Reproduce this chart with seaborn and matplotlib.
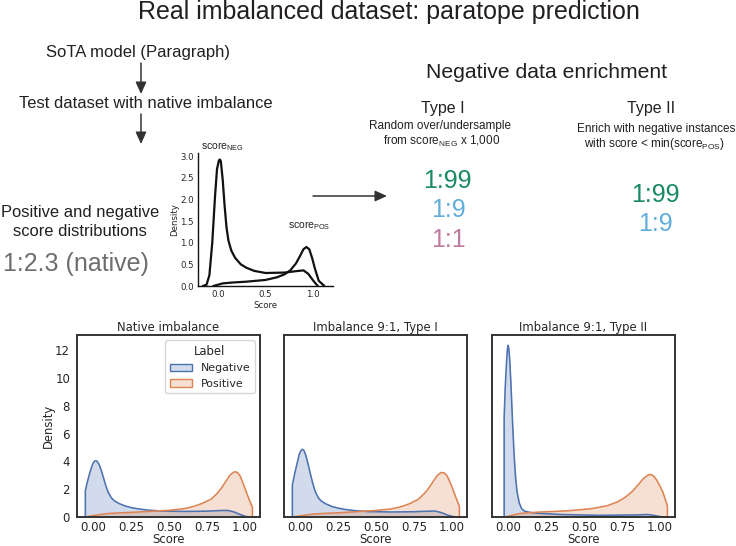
import matplotlib
matplotlib.use('Agg')
import matplotlib.pyplot as plt
from matplotlib.patches import Patch, FancyArrowPatch
import seaborn as sns
import pandas as pd

# values
neg1_x = [-0.05, -0.05, -0.035, -0.02, -0.005, 0.005, 0.015, 0.025, 0.04, 0.055, 0.07, 0.085, 0.10, 0.12, 0.14, 0.17, 0.21, 0.25, 0.30, 0.36, 0.45, 0.60, 0.75, 0.85, 0.89, 0.93, 0.97, 1.0, 1.03]
neg1_y = [0, 1.9, 2.6, 3.2, 3.72, 3.95, 4.05, 4.03, 3.8, 3.35, 2.8, 2.25, 1.8, 1.4, 1.17, 0.98, 0.8, 0.68, 0.58, 0.5, 0.43, 0.4, 0.42, 0.47, 0.47, 0.36, 0.18, 0.06, 0]
pos1_x = [-0.05, 0.0, 0.05, 0.10, 0.18, 0.25, 0.40, 0.50, 0.60, 0.66, 0.72, 0.78, 0.82, 0.85, 0.88, 0.905, 0.93, 0.95, 0.97, 1.0, 1.02, 1.05, 1.05]
pos1_y = [0, 0.1, 0.18, 0.25, 0.3, 0.33, 0.42, 0.48, 0.6, 0.75, 0.98, 1.3, 1.72, 2.15, 2.65, 3.05, 3.25, 3.22, 2.95, 2.1, 1.5, 0.7, 0]

neg2_x = [-0.05, -0.05, -0.035, -0.02, -0.005, 0.005, 0.015, 0.025, 0.04, 0.055, 0.07, 0.085, 0.10, 0.12, 0.14, 0.17, 0.21, 0.25, 0.30, 0.36, 0.45, 0.60, 0.75, 0.85, 0.89, 0.93, 0.97, 1.0, 1.03]
neg2_y = [0, 2.3, 3.1, 3.8, 4.5, 4.75, 4.87, 4.82, 4.4, 3.75, 3.05, 2.4, 1.85, 1.4, 1.15, 0.95, 0.76, 0.64, 0.54, 0.46, 0.39, 0.36, 0.38, 0.42, 0.43, 0.32, 0.15, 0.05, 0]
pos2_x = [-0.05, 0.0, 0.05, 0.10, 0.18, 0.25, 0.40, 0.50, 0.60, 0.66, 0.72, 0.78, 0.82, 0.85, 0.88, 0.905, 0.93, 0.95, 0.97, 1.0, 1.02, 1.05, 1.05]
pos2_y = [0, 0.08, 0.16, 0.22, 0.27, 0.3, 0.4, 0.47, 0.58, 0.72, 0.95, 1.28, 1.7, 2.1, 2.6, 3.0, 3.2, 3.18, 2.95, 2.2, 1.6, 0.75, 0]

neg3_x = [-0.025, -0.025, -0.018, -0.01, -0.004, 0.0, 0.005, 0.012, 0.02, 0.03, 0.04, 0.05, 0.06, 0.075, 0.09, 0.11, 0.15, 0.2, 0.35, 0.6, 0.85, 0.92, 0.97, 1.0, 1.03]
neg3_y = [0, 7.2, 9.3, 11.0, 12.0, 12.35, 12.2, 11.3, 9.5, 6.9, 4.6, 2.9, 1.8, 1.0, 0.6, 0.42, 0.32, 0.27, 0.18, 0.12, 0.15, 0.18, 0.1, 0.03, 0]
pos3_x = [-0.03, 0.0, 0.04, 0.08, 0.14, 0.20, 0.40, 0.55, 0.65, 0.72, 0.77, 0.82, 0.86, 0.89, 0.92, 0.94, 0.96, 0.98, 1.0, 1.02, 1.05, 1.05]
pos3_y = [0, 0.05, 0.16, 0.25, 0.31, 0.35, 0.45, 0.6, 0.8, 1.08, 1.4, 1.85, 2.35, 2.75, 3.0, 3.07, 2.95, 2.65, 2.25, 1.8, 0.8, 0]

inset_neg_x = [-0.16, -0.12, -0.09, -0.06, -0.03, -0.01, 0.01, 0.02, 0.03, 0.05, 0.07, 0.09, 0.11, 0.14, 0.18, 0.24, 0.30, 0.38, 0.5, 0.7, 0.85, 0.90, 0.95, 1.0, 1.05]
inset_neg_y = [0, 0.03, 0.25, 1.0, 2.1, 2.7, 2.9, 2.92, 2.88, 2.45, 1.85, 1.35, 1.05, 0.82, 0.65, 0.5, 0.42, 0.35, 0.3, 0.31, 0.35, 0.36, 0.28, 0.13, 0]
inset_pos_x = [-0.05, 0.0, 0.05, 0.15, 0.30, 0.50, 0.62, 0.70, 0.76, 0.82, 0.86, 0.90, 0.93, 0.96, 0.99, 1.02, 1.06, 1.12]
inset_pos_y = [0, 0.03, 0.06, 0.08, 0.1, 0.14, 0.2, 0.27, 0.36, 0.52, 0.68, 0.85, 0.9, 0.85, 0.65, 0.4, 0.12, 0]

panel_titles = ['Native imbalance', 'Imbalance 9:1, Type I', 'Imbalance 9:1, Type II']
score_ticks = [0.0, 0.25, 0.5, 0.75, 1.0]
score_labels = ['0.00', '0.25', '0.50', '0.75', '1.00']
density_ticks = [0, 2, 4, 6, 8, 10, 12]

W, H = 736, 546
sns.set_theme(style='white', palette='deep')
plt.rcParams['mathtext.fontset'] = 'custom'
plt.rcParams['mathtext.rm'] = 'Liberation Sans'
blue, orange = sns.color_palette('deep')[:2]
ANN = 'Liberation Sans'
INK = '#231f20'
TXT = '#262626'

fig = plt.figure(figsize=(W / 100, H / 100), dpi=100)


def box(x0, y0, x1, y1):
    # pixel box (y from top) to figure fraction
    return [x0 / W, 1 - y1 / H, (x1 - x0) / W, (y1 - y0) / H]


def label(x, y, s, size, color=INK, **kw):
    fig.text(x / W, 1 - y / H, s, fontsize=size, color=color, family=ANN,
             ha='center', va='center', **kw)


def arrow(x0, y0, x1, y1):
    fig.add_artist(FancyArrowPatch(
        (x0 / W, 1 - y0 / H), (x1 / W, 1 - y1 / H), transform=fig.transFigure,
        arrowstyle='-|>,head_length=0.55,head_width=0.25', mutation_scale=13, lw=1.1,
        color='#333333', shrinkA=0, shrinkB=0))


def curve(ax, xs, ys, color):
    df = pd.DataFrame({'Score': xs, 'Density': ys})
    sns.lineplot(data=df, x='Score', y='Density', sort=False, estimator=None,
                 color=color, lw=1.15, ax=ax)
    ax.fill_between(df['Score'], df['Density'], color=color, alpha=0.25, lw=0)


# bottom row
boxes = [(77, 335, 260, 517), (284, 335, 467, 517), (492, 335, 675, 517)]
series = [(neg1_x, neg1_y, pos1_x, pos1_y),
          (neg2_x, neg2_y, pos2_x, pos2_y),
          (neg3_x, neg3_y, pos3_x, pos3_y)]
for i, (b, s) in enumerate(zip(boxes, series)):
    ax = fig.add_axes(box(*b))
    curve(ax, s[0], s[1], blue)
    curve(ax, s[2], s[3], orange)
    ax.set_xlim(-0.105, 1.1)
    ax.set_ylim(0, 13.1)
    ax.set_xticks(score_ticks, score_labels)
    ax.set_title(panel_titles[i], fontsize=8.4, color=TXT, pad=3)
    # tight spacing keeps the label inside the canvas
    ax.set_xlabel('Score', fontsize=8.4, color=TXT, labelpad=-1)
    ax.tick_params(axis='x', labelsize=8.5, colors=TXT, pad=3, length=0)
    if i == 0:
        ax.set_yticks(density_ticks)
        ax.tick_params(axis='y', labelsize=8.5, colors=TXT, pad=5, length=0)
        ax.set_ylabel('Density', fontsize=8.4, color=TXT, labelpad=0)
        ax.legend(handles=[Patch(facecolor=(*blue, 0.25), edgecolor=blue, label='Negative'),
                           Patch(facecolor=(*orange, 0.25), edgecolor=orange, label='Positive')],
                  title='Label', fontsize=7.9, title_fontsize=8.4, loc='upper right',
                  labelcolor=TXT, borderaxespad=0.5)
    else:
        ax.set_yticks([])
        ax.set_ylabel('')
    for sp in ax.spines.values():
        sp.set_linewidth(1.4)
        sp.set_color('#333333')

# small density plot in the middle
inset = fig.add_axes(box(198, 153, 333, 286))
sns.lineplot(x=inset_neg_x, y=inset_neg_y, sort=False, estimator=None, color='#111111', lw=1.6, ax=inset)
sns.lineplot(x=inset_pos_x, y=inset_pos_y, sort=False, estimator=None, color='#111111', lw=1.6, ax=inset)
inset.set_xlim(-0.21, 1.21)
inset.set_ylim(0, 3.07)
inset.set_xticks([0.0, 0.5, 1.0])
inset.set_yticks([0.0, 0.5, 1.0, 1.5, 2.0, 2.5, 3.0])
inset.tick_params(labelsize=6.2, colors=TXT, pad=3, length=0)
inset.set_xlabel('Score', fontsize=6.2, color=TXT, labelpad=1)
inset.set_ylabel('Density', fontsize=6.2, color=TXT, labelpad=1)
sns.despine(ax=inset)
for side in ('left', 'bottom'):
    inset.spines[side].set_linewidth(1.0)
    inset.spines[side].set_color('#111111')

# annotation text
label(389, 12, 'Real imbalanced dataset: paratope prediction', 18)
label(138, 52, 'SoTA model (Paragraph)', 12)
label(146, 104, 'Test dataset with native imbalance', 11.9)
label(80, 212, 'Positive and negative', 11.9)
label(80, 232, 'score distributions', 11.9)
label(76, 264, '1:2.3 (native)', 18, color='#6d6e71')
label(222, 147, r'score$_{\mathrm{NEG}}$', 7.5)
label(309, 226, r'score$_{\mathrm{POS}}$', 7.5)
label(547, 72, 'Negative data enrichment', 15.2)
label(443, 108, 'Type I', 11.5)
label(651, 108, 'Type II', 11.5)
label(440, 126, 'Random over/undersample', 8.5)
label(442, 141, r'from score$_{\mathrm{NEG}}$ x 1,000', 8.5)
label(656, 129, 'Enrich with negative instances', 8.5)
label(654, 144, r'with score < min(score$_{\mathrm{POS}}$)', 8.5)
label(447, 181, '1:99', 18, color='#1a8a64')
label(448, 210, '1:9', 18, color='#62aedb')
label(448, 240, '1:1', 18, color='#c27ba0')
label(655, 195, '1:99', 18, color='#1a8a64')
label(655, 224, '1:9', 18, color='#62aedb')

arrow(141, 63, 141, 94)
arrow(141, 114, 141, 144)
arrow(313, 196, 387, 196)

fig.savefig('out.png', dpi=100)
